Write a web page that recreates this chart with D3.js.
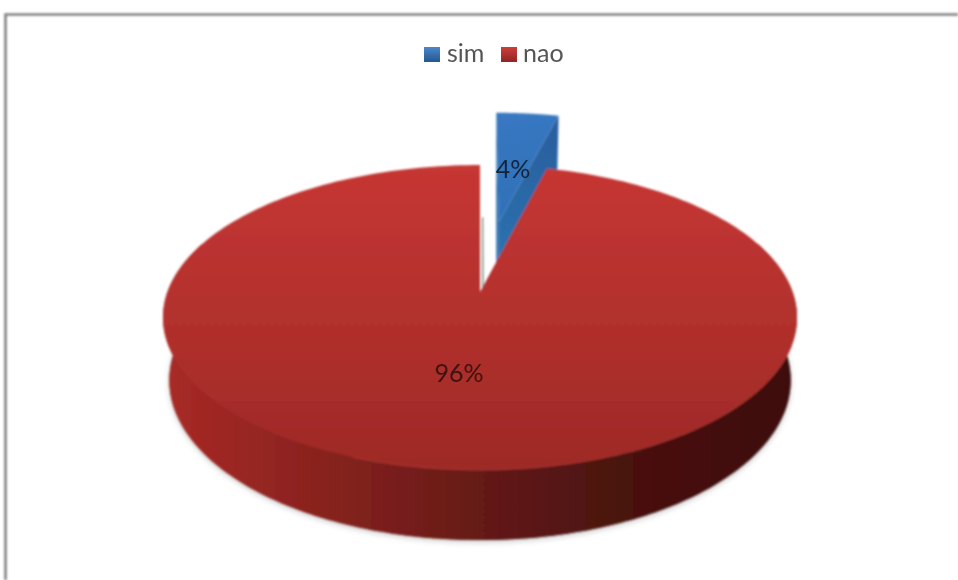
<!DOCTYPE html>
<html><head><meta charset="utf-8">
<script src="https://cdn.jsdelivr.net/npm/d3@7/dist/d3.min.js"></script>
<style>html,body{margin:0;padding:0;background:#fff;overflow:hidden}svg{display:block}</style>
</head><body><svg id="c" width="958" height="580"></svg>
<script>
const categories = ["sim", "nao"];
const values = [4, 96];
const valueLabels = ["4%", "96%"];
const explode = [0.52, 0];

const svg = d3.select("#c");
const defs = svg.append("defs");
function blur(id, sd) {
  const f = defs.append("filter").attr("id", id).attr("filterUnits", "userSpaceOnUse")
    .attr("x", 0).attr("y", 0).attr("width", 958).attr("height", 580);
  f.append("feGaussianBlur").attr("stdDeviation", sd);
}
blur("soft", 1.0);
blur("softText", 0.6);
blur("shadow", 3);

function grad(id, x1, y1, x2, y2, stops) {
  const g = defs.append("linearGradient").attr("id", id).attr("gradientUnits", "userSpaceOnUse")
    .attr("x1", x1).attr("y1", y1).attr("x2", x2).attr("y2", y2);
  stops.forEach(s => g.append("stop").attr("offset", s[0]).attr("stop-color", s[1]));
}
grad("redTop", 0, 165, 0, 470, [[0, "#c63734"], [0.5, "#b2302d"], [1, "#9d2a27"]]);
grad("redWall", 165, 0, 795, 0, [[0, "#a82a26"], [0.2, "#8f2420"], [0.5, "#651a17"], [0.72, "#4a1210"], [1, "#3e0f0d"]]);
grad("blueTop", 497, 113, 520, 225, [[0, "#3878c2"], [1, "#2e70b6"]]);
grad("blueCut", 560, 120, 500, 265, [[0, "#2a5e9e"], [1, "#2a72ae"]]);
grad("legB", 0, 46, 0, 62, [[0, "#4d8bd0"], [1, "#24578f"]]);
grad("legR", 0, 46, 0, 62, [[0, "#d2403d"], [1, "#8f2523"]]);

// frame
svg.append("path").attr("d", "M5.5,580V14.5H958").attr("fill", "none").attr("stroke", "#808080").attr("stroke-width", 2.6).attr("filter", "url(#soft)");

// perspective projection of the pie plane (u right, v away, w = 1 for the underside)
const K = 0.167, S = 312.6, CX = 480, AY = -99.4, B0 = 292, B1 = 361.2, M1 = 0.02;
function proj(u, v, w) {
  const D = 1 + K * v + (w ? M1 : 0);
  return [CX + S * u / D, (AY * v + (w ? B1 : B0)) / D];
}
const arcs = d3.pie().sort(null).value(d => d)(values);
const line = d3.line();
const off = (i) => {
  const mid = (arcs[i].startAngle + arcs[i].endAngle) / 2;
  return [explode[i] * Math.sin(mid), explode[i] * Math.cos(mid)];
};
function rim(i, a0, a1, w) {
  const [ou, ov] = off(i);
  return d3.range(0, 241).map(k => {
    const t = a0 + (a1 - a0) * k / 240;
    return proj(ou + Math.sin(t), ov + Math.cos(t), w);
  });
}
function apex(i, w) { const [ou, ov] = off(i); return proj(ou, ov, w); }
const a0 = arcs[0], a1 = arcs[1];
const frontA = 70 * Math.PI / 180, frontB = 290 * Math.PI / 180;

// soft shadow beneath the front of the pie only
svg.append("path").attr("d", line(rim(1, frontA, frontB, 1)) + "Z").attr("fill", "#777").attr("opacity", 0.4)
   .attr("filter", "url(#shadow)").attr("transform", "translate(0,2)");

const chart = svg.append("g").attr("filter", "url(#soft)");

// blue slice (exploded, behind the red one)
const bTop = rim(0, a0.startAngle, a0.endAngle, 0);
const bBot = rim(0, a0.startAngle, a0.endAngle, 1);
chart.append("path")
  .attr("d", line([apex(0, 0), bTop[240], bBot[240], apex(0, 1)]) + "Z")
  .attr("fill", "url(#blueCut)");
chart.append("path")
  .attr("d", line([bTop[0], apex(0, 0), apex(0, 1), [bTop[0][0], apex(0, 1)[1]]]) + "Z")
  .attr("fill", "#2a6cae");
chart.append("path")
  .attr("d", line([apex(0, 0), ...bTop]) + "Z")
  .attr("fill", "url(#blueTop)");

// red slice: wall then top
chart.append("path").attr("d", line([...rim(1, frontA, frontB, 0), ...rim(1, frontA, frontB, 1).reverse()]) + "Z").attr("fill", "url(#redWall)");
chart.append("path").attr("d", line(rim(1, frontA, frontB, 1)) + "Z").attr("fill", "url(#redWall)");
// sliver seen in the gap
chart.append("path").attr("d", line([proj(0.006, 0.03, 0), proj(0.012, 0.03, 0), proj(0.012, 0.55, 0), proj(0.006, 0.55, 0)]) + "Z")
  .attr("fill", "#8f978a");
chart.append("path").attr("d", line([apex(1, 0), ...rim(1, a1.startAngle, a1.endAngle, 0)]) + "Z").attr("fill", "url(#redTop)");
// thin highlight along the front rim
chart.append("path").attr("d", line(rim(1, 110 * Math.PI / 180, 200 * Math.PI / 180, 0))).attr("fill", "none").attr("stroke", "#c0403a").attr("stroke-width", 1.2).attr("opacity", 0.6);

// value labels
const labelPos = [[513, 168], [459, 372]];
const text = svg.append("g").attr("filter", "url(#softText)");
text.selectAll("text.val").data(valueLabels).join("text").attr("class", "val")
  .attr("x", (d, i) => labelPos[i][0]).attr("y", (d, i) => labelPos[i][1])
  .attr("text-anchor", "middle").attr("dominant-baseline", "central")
  .attr("font-family", "Lato, 'Open Sans', sans-serif").attr("font-size", 25)
  .attr("fill", (d, i) => i ? "#3d1210" : "#12233a").text(d => d);

// legend
const legX = [424, 501], txtX = [447, 523];
const leg = svg.append("g").attr("filter", "url(#softText)");
leg.selectAll("rect").data(categories).join("rect")
  .attr("x", (d, i) => legX[i]).attr("y", 47).attr("width", 16).attr("height", 15)
  .attr("fill", (d, i) => i ? "url(#legR)" : "url(#legB)");
leg.selectAll("text").data(categories).join("text")
  .attr("x", (d, i) => txtX[i]).attr("y", 62)
  .attr("font-family", "Lato, 'Open Sans', sans-serif").attr("font-size", 25)
  .attr("fill", "#555").text(d => d);
</script></body></html>
